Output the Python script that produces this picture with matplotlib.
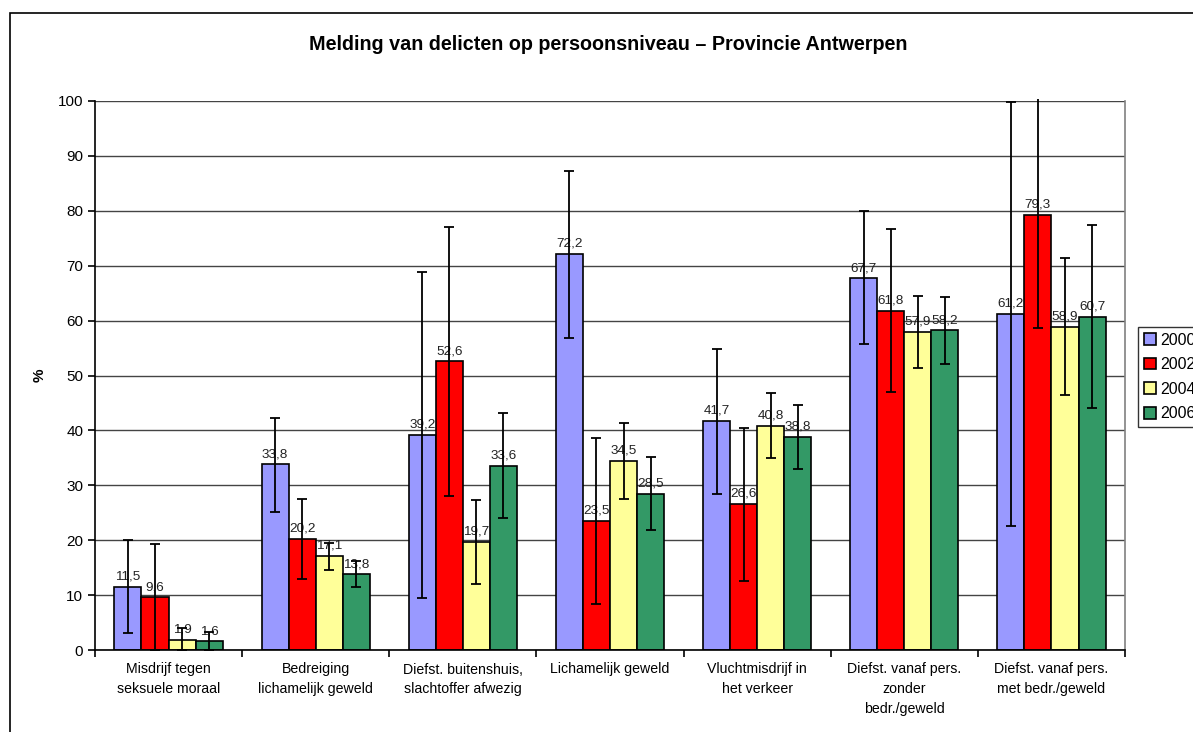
import numpy as np
import matplotlib
matplotlib.use("Agg")
from matplotlib import pyplot as plt
from matplotlib.patches import Rectangle

plt.rcParams['font.family'] = ['Liberation Sans', 'DejaVu Sans']

## DATA
categories = ["Misdrijf tegen\nseksuele moraal",
              "Bedreiging\nlichamelijk geweld",
              "Diefst. buitenshuis,\nslachtoffer afwezig",
              "Lichamelijk geweld",
              "Vluchtmisdrijf in\nhet verkeer",
              "Diefst. vanaf pers.\nzonder\nbedr./geweld",
              "Diefst. vanaf pers.\nmet bedr./geweld"]
years = ["2000", "2002", "2004", "2006"]

val_2000 = [11.5, 33.8, 39.2, 72.2, 41.7, 67.7, 61.2]
val_2002 = [9.6, 20.2, 52.6, 23.5, 26.6, 61.8, 79.3]
val_2004 = [1.9, 17.1, 19.7, 34.5, 40.8, 57.9, 58.9]
val_2006 = [1.6, 13.8, 33.6, 28.5, 38.8, 58.2, 60.7]

# confidence interval bounds
low_2000 = [3.1, 25.1, 9.4, 56.8, 28.4, 55.8, 22.6]
high_2000 = [20.0, 42.3, 68.9, 87.3, 54.9, 79.9, 99.9]
low_2002 = [0.0, 12.9, 28.0, 8.4, 12.6, 47.0, 58.6]
high_2002 = [19.3, 27.5, 77.1, 38.6, 40.5, 76.7, 100.4]
low_2004 = [0.0, 14.6, 12.0, 27.5, 35.0, 51.4, 46.4]
high_2004 = [4.0, 19.5, 27.3, 41.4, 46.8, 64.5, 71.4]
low_2006 = [0.0, 11.5, 24.0, 21.9, 33.0, 52.1, 44.1]
high_2006 = [3.3, 16.2, 43.2, 35.2, 44.6, 64.3, 77.4]

values = [val_2000, val_2002, val_2004, val_2006]
lows = [low_2000, low_2002, low_2004, low_2006]
highs = [high_2000, high_2002, high_2004, high_2006]
colors = ["#9999FF", "#FF0000", "#FFFF99", "#339966"]

## FIGURE
fig = plt.figure(figsize=(11.93, 7.32), dpi=100)
ax = fig.add_axes([95 / 1193, 82 / 732, 1030 / 1193, 549 / 732])

# chart area border (runs off the right and bottom edge)
fig.patches.append(Rectangle((9.5 / 1193, -0.1), 1.2, 1 - 12.5 / 732 + 0.1,
                             transform=fig.transFigure, fill=False,
                             edgecolor="black", linewidth=1.2))

x = np.arange(len(categories))
w = 0.184
for i in range(4):
    pos = x + (i - 1.5) * w
    v = np.array(values[i])
    ax.bar(pos, v, w, color=colors[i], edgecolor="black", linewidth=1.2,
           label=years[i], zorder=2)
    err = [v - np.array(lows[i]), np.array(highs[i]) - v]
    eb = ax.errorbar(pos, v, yerr=err, fmt="none", ecolor="black",
                     elinewidth=1.3, capsize=3.6, capthick=1.3, zorder=4)
    for line in eb[2]:
        line.set_clip_on(False)
    for j in range(len(categories)):
        ax.annotate(f"{v[j]:.1f}".replace(".", ","), (pos[j], v[j]),
                    xytext=(0, 3), textcoords="offset points",
                    ha="center", va="bottom", fontsize=9.7, color="#222222",
                    zorder=3)

ax.set_xlim(-0.5, len(categories) - 0.5)
ax.set_ylim(0, 100)
ax.set_yticks(range(0, 101, 10))
ax.tick_params(axis="y", labelsize=11, length=5, width=1.2, pad=3.5)
ax.set_xticks(x)
ax.set_xticklabels(categories, fontsize=10.2, linespacing=1.5)
ax.tick_params(axis="x", which="major", length=0, pad=9)
ax.set_xticks(np.arange(-0.5, len(categories)), minor=True)
ax.tick_params(axis="x", which="minor", length=5, width=1.2)

ax.yaxis.grid(True, color="#444444", linewidth=1, zorder=0)
ax.set_axisbelow(True)
for s in ["top", "right"]:
    ax.spines[s].set_color("#808080")
    ax.spines[s].set_linewidth(1.2)
for s in ["left", "bottom"]:
    ax.spines[s].set_linewidth(1.2)
ax.spines["top"].set_visible(False)

ax.set_ylabel("%", fontsize=11, fontweight="bold", labelpad=8)
fig.text(608 / 1193, 1 - 45 / 732, "Melding van delicten op persoonsniveau \u2013 Provincie Antwerpen",
         ha="center", va="center", fontsize=14.2, fontweight="bold")

leg = ax.legend(loc="upper left", bbox_to_anchor=(1138 / 1193, 1 - 327 / 732),
                bbox_transform=fig.transFigure, borderaxespad=0, fontsize=11.5,
                frameon=True, fancybox=False, edgecolor="black",
                handlelength=0.75, handleheight=0.75, handletextpad=0.3,
                labelspacing=0.6, borderpad=0.35)
leg.get_frame().set_linewidth(1.0)

fig.savefig("out.png", dpi=100)
